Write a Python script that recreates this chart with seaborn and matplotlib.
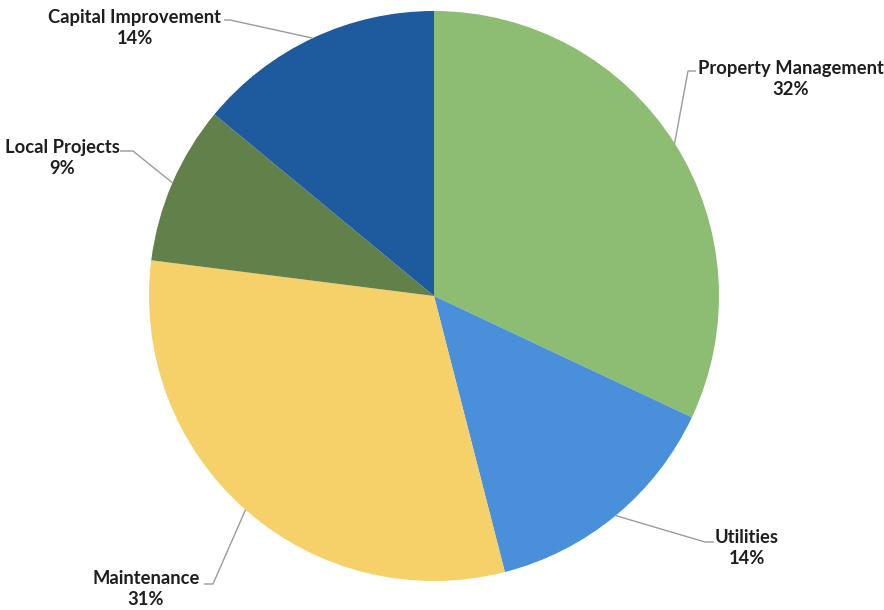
import numpy as np
import matplotlib
matplotlib.use("Agg")
import matplotlib.pyplot as plt
import seaborn as sns

categories = ["Property Management", "Utilities", "Maintenance", "Local Projects", "Capital Improvement"]
values = [32, 14, 31, 9, 14]
colors = ["#8dbd72", "#4a8fd9", "#f6d068", "#62804a", "#1d5b9e"]

sns.set_theme(style="white")
plt.rcParams['font.family'] = ['Lato', 'DejaVu Sans']

W, H = 884, 610
fig = plt.figure(figsize=(W / 100, H / 100), dpi=100)
ax = fig.add_axes([0, 0, 1, 1])

cx, cy, r = 434, H - 296, 285
wedges, _ = ax.pie(values, colors=colors, startangle=90, counterclock=False,
                   center=(cx, cy), radius=r, frame=True,
                   wedgeprops=dict(linewidth=0.6, edgecolor="none"))
ax.set_xlim(0, W)
ax.set_ylim(0, H)
ax.set_aspect("equal")
ax.axis("off")

# label layout (pixel coords from top): text center, line start near text, elbow
layout = {
    "Property Management": dict(text=(791, 79), start=(696, 71), elbow=(688, 71)),
    "Utilities": dict(text=(747, 548), start=(714, 542), elbow=(705, 542)),
    "Maintenance": dict(text=(146, 589), start=(204, 584), elbow=(213, 584)),
    "Local Projects": dict(text=(62, 158), start=(120, 151), elbow=(133, 151)),
    "Capital Improvement": dict(text=(135, 28), start=(224, 20), elbow=(230, 20)),
}

for w, cat, v in zip(wedges, categories, values):
    mid = np.deg2rad((w.theta1 + w.theta2) / 2)
    ex, ey = cx + r * np.cos(mid), cy + r * np.sin(mid)
    L = layout[cat]
    sx, sy = L["start"]
    bx, by = L["elbow"]
    ax.plot([sx, bx, ex], [H - sy, H - by, ey], color="#9a9a9a", lw=1.0,
            solid_capstyle="butt", zorder=3)
    tx, ty = L["text"]
    ax.text(tx, H - ty, f"{cat}\n{v}%", ha="center", va="center",
            fontsize=13.2, fontweight="bold", color="#1e1e1e", linespacing=1.3)

fig.savefig("out.png", dpi=100)
